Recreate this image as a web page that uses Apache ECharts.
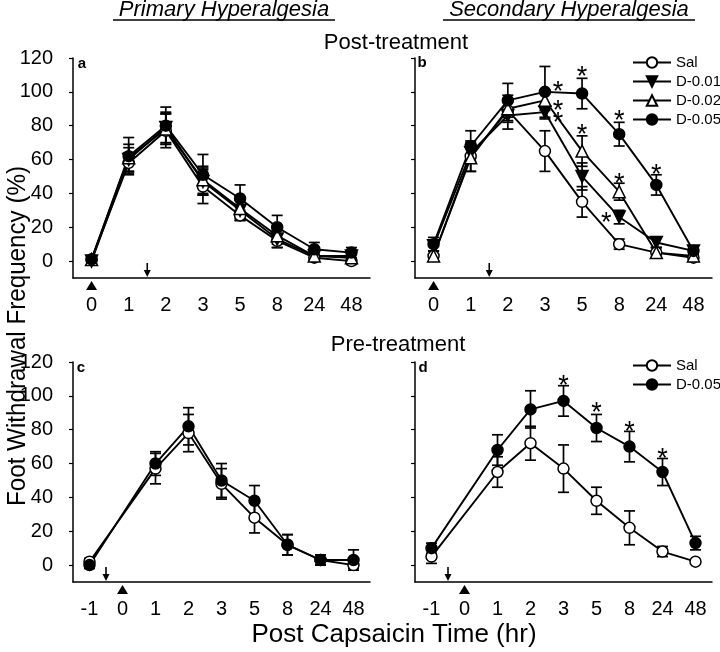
<!DOCTYPE html>
<html>
<head>
<meta charset="utf-8">
<script src="https://cdn.jsdelivr.net/npm/echarts@6/dist/echarts.min.js"></script>
<style>
  html, body { margin: 0; padding: 0; background: #fff; }
</style>
</head>
<body>
<div id="main" style="width: 720px; height: 652px"></div>
<script>
// time points (hr) for the post-treatment (a, b) and pre-treatment (c, d) panels
const catsPost = ["0", "1", "2", "3", "5", "8", "24", "48"];
const catsPre = ["-1", "0", "1", "2", "3", "5", "8", "24", "48"];
const yTicks = [0, 20, 40, 60, 80, 100, 120];

// panel a: primary hyperalgesia, post-treatment (mean, SEM)
const aSal = [1, 58, 77, 44, 27, 12, 2, 0];
const aSalErr = [2, 6, 10, 10, 3, 4, 2, 2];
const aD001 = [0, 60, 79, 47, 30, 13, 3, 3];
const aD001Err = [2, 7, 9, 8, 6, 5, 2, 2];
const aD002 = [1, 61, 78, 48, 31, 15, 3, 2];
const aD002Err = [2, 8, 9, 8, 6, 5, 3, 3];
const aD005 = [1, 62, 80, 51, 37, 20, 7, 5];
const aD005Err = [2, 11, 11, 12, 8, 7, 4, 3];

// panel b: secondary hyperalgesia, post-treatment
const bSal = [3, 62, 89, 65, 35, 10, 5, 2];
const bSalErr = [3, 9, 6, 12, 9, 3, 3, 2];
const bD001 = [9, 64, 86, 88, 50, 26, 11, 6];
const bD001Err = [3, 6, 8, 4, 8, 4, 3, 2];
const bD002 = [3, 61, 90, 95, 65, 41, 5, 3];
const bD002Err = [3, 8, 8, 6, 9, 5, 3, 2];
const bD005 = [10, 68, 95, 100, 99, 75, 45, 6];
const bD005Err = [4, 9, 10, 15, 9, 7, 6, 3];

// panel c: primary hyperalgesia, pre-treatment
const cSal = [2, null, 57, 78, 48, 28, 12, 3, 0];
const cSalErr = [2, null, 9, 11, 9, 9, 6, 3, 2];
const cD005 = [0, null, 60, 82, 50, 38, 12, 3, 3];
const cD005Err = [2, null, 7, 11, 10, 9, 6, 3, 6];

// panel d: secondary hyperalgesia, pre-treatment
const dSal = [5, null, 55, 72, 57, 38, 22, 8, 2];
const dSalErr = [4, null, 9, 10, 14, 8, 10, 3, 1];
const dD005 = [10, null, 68, 92, 97, 81, 70, 55, 13];
const dD005Err = [3, null, 9, 11, 9, 8, 9, 8, 4];

// significance stars: [category index, value, side (-1 left, 0 above, 1 right)]
const bStars = [[3, 103, 1], [3, 92, 1], [3, 85, 1], [4, 112, 0], [4, 78, 0],
                [5, 86, 0], [5, 49, 0], [5, 26, -1], [6, 54, 0]];
const dStars = [[4, 109, 0], [5, 93, 0], [6, 82, 0], [7, 66, 0]];

// drug injection arrow (after this category) and capsaicin triangle (at category)
const arrowPost = 1, capsPost = 0;
const arrowPre = 0, capsPre = 1;

const FONT = "Liberation Sans, Arial, sans-serif";
const INK = "#000";

const styles = {
  "Sal": { symbol: "circle", size: 11, fill: "#fff", rotate: 0 },
  "D-0.01": { symbol: "triangle", size: 12, fill: INK, rotate: 180 },
  "D-0.02": { symbol: "triangle", size: 12, fill: "#fff", rotate: 0 },
  "D-0.05": { symbol: "circle", size: 11, fill: INK, rotate: 0 },
};

const grids = [
  { left: 73, top: 58, width: 297, height: 220 },
  { left: 415, top: 58, width: 297, height: 220 },
  { left: 73, top: 362, width: 297, height: 220 },
  { left: 415, top: 362, width: 297, height: 220 },
];

function xAxisFor(i, cats) {
  return {
    gridIndex: i, type: "category", data: cats, boundaryGap: true,
    axisLine: { onZero: false, lineStyle: { color: INK, width: 1.5 } },
    axisTick: { alignWithLabel: true, length: 5, lineStyle: { color: INK, width: 1.2 } },
    axisLabel: { interval: 0, fontSize: 20, color: INK, fontFamily: FONT, margin: 17 },
    splitLine: { show: false },
  };
}

function yAxisFor(i, labels) {
  return {
    gridIndex: i, type: "value", min: -10, max: 120,
    axisLine: { show: true, lineStyle: { color: INK, width: 1.5 } },
    axisTick: { show: true, length: 4, customValues: yTicks, lineStyle: { color: INK, width: 1.2 } },
    axisLabel: { show: labels, customValues: yTicks, fontSize: 20, color: INK, fontFamily: FONT, margin: 20 },
    splitLine: { show: false },
  };
}

function errorBars(params, api) {
  const x = api.value(0), y = api.value(1), e = api.value(2);
  const hi = api.coord([x, y + e]);
  const lo = api.coord([x, y - e]);
  const w = 5.5;
  const st = { stroke: INK, lineWidth: 1.7 };
  return {
    type: "group",
    children: [
      { type: "line", shape: { x1: hi[0], y1: hi[1], x2: lo[0], y2: lo[1] }, style: st },
      { type: "line", shape: { x1: hi[0] - w, y1: hi[1], x2: hi[0] + w, y2: hi[1] }, style: st },
      { type: "line", shape: { x1: lo[0] - w, y1: lo[1], x2: lo[0] + w, y2: lo[1] }, style: st },
    ],
  };
}

function starMark(params, api) {
  const p = api.coord([api.value(0), api.value(1)]);
  return {
    type: "text",
    x: p[0] + api.value(2) * 13,
    y: p[1] + 6,
    style: { text: "*", fontSize: 27, fontFamily: FONT, fill: INK, align: "center", verticalAlign: "middle" },
  };
}

function drugArrow(params, api) {
  const base = api.coord([api.value(0), -10]);
  const x = base[0] + api.size([1, 0])[0] / 2;
  const yb = base[1] - 1;
  return {
    type: "group",
    children: [
      { type: "line", shape: { x1: x, y1: yb - 14, x2: x, y2: yb - 5 }, style: { stroke: INK, lineWidth: 1.6 } },
      { type: "polygon", shape: { points: [[x - 3.5, yb - 7], [x + 3.5, yb - 7], [x, yb]] }, style: { fill: INK } },
    ],
  };
}

function capsMark(params, api) {
  const p = api.coord([api.value(0), -10]);
  return {
    type: "polygon",
    shape: { points: [[p[0] - 5.5, p[1] + 12], [p[0] + 5.5, p[1] + 12], [p[0], p[1] + 3]] },
    style: { fill: INK },
  };
}

const series = [];

function addGroup(gi, name, values, errs) {
  const s = styles[name];
  series.push({
    type: "custom", xAxisIndex: gi, yAxisIndex: gi, z: 2, silent: true,
    renderItem: errorBars,
    data: values.map((v, i) => [i, v, errs[i]]).filter((d) => d[1] != null),
  });
  series.push({
    type: "line", name: name, xAxisIndex: gi, yAxisIndex: gi, z: 3,
    data: values, connectNulls: true,
    symbol: s.symbol, symbolSize: s.size, symbolRotate: s.rotate, showAllSymbol: true,
    itemStyle: { color: s.fill, borderColor: INK, borderWidth: 1.5 },
    lineStyle: { color: INK, width: 1.9 },
    emphasis: { disabled: true },
    animation: false,
  });
}

function addMarks(gi, arrowAt, capsAt) {
  series.push({ type: "custom", xAxisIndex: gi, yAxisIndex: gi, z: 4, renderItem: drugArrow, data: [[arrowAt, -10]] });
  series.push({ type: "custom", xAxisIndex: gi, yAxisIndex: gi, z: 4, renderItem: capsMark, data: [[capsAt, -10]] });
}

addGroup(0, "Sal", aSal, aSalErr);
addGroup(0, "D-0.01", aD001, aD001Err);
addGroup(0, "D-0.02", aD002, aD002Err);
addGroup(0, "D-0.05", aD005, aD005Err);
addMarks(0, arrowPost, capsPost);

addGroup(1, "Sal", bSal, bSalErr);
addGroup(1, "D-0.01", bD001, bD001Err);
addGroup(1, "D-0.02", bD002, bD002Err);
addGroup(1, "D-0.05", bD005, bD005Err);
addMarks(1, arrowPost, capsPost);
series.push({ type: "custom", xAxisIndex: 1, yAxisIndex: 1, z: 5, renderItem: starMark, data: bStars });

addGroup(2, "Sal", cSal, cSalErr);
addGroup(2, "D-0.05", cD005, cD005Err);
addMarks(2, arrowPre, capsPre);

addGroup(3, "Sal", dSal, dSalErr);
addGroup(3, "D-0.05", dD005, dD005Err);
addMarks(3, arrowPre, capsPre);
series.push({ type: "custom", xAxisIndex: 3, yAxisIndex: 3, z: 5, renderItem: starMark, data: dStars });

function txt(x, y, text, size, extraStyle, extra) {
  return Object.assign({
    type: "text", x: x, y: y, silent: true,
    style: Object.assign({ text: text, fontSize: size, fontFamily: FONT, fill: INK, align: "center", verticalAlign: "middle" }, extraStyle || {}),
  }, extra || {});
}

function rule(x1, x2, y) {
  return { type: "line", silent: true, shape: { x1: x1, y1: y, x2: x2, y2: y }, style: { stroke: INK, lineWidth: 1.3 } };
}

const legendBase = {
  orient: "vertical", padding: 0, itemWidth: 38, itemHeight: 13, itemGap: 4,
  selectedMode: false,
  textStyle: { fontSize: 15, fontFamily: FONT, color: INK },
};

const bold = { fontWeight: "bold" };
const italic = { fontStyle: "italic" };

const option = {
  animation: false,
  backgroundColor: "#fff",
  grid: grids,
  xAxis: [xAxisFor(0, catsPost), xAxisFor(1, catsPost), xAxisFor(2, catsPre), xAxisFor(3, catsPre)],
  yAxis: [yAxisFor(0, true), yAxisFor(1, false), yAxisFor(2, true), yAxisFor(3, false)],
  legend: [
    Object.assign({ data: ["Sal", "D-0.01", "D-0.02", "D-0.05"], left: 632, top: 55 }, legendBase),
    Object.assign({ data: ["Sal", "D-0.05"], left: 632, top: 358 }, legendBase),
  ],
  graphic: [
    txt(224, 10, "Primary Hyperalgesia", 22, italic),
    rule(113, 335, 20),
    txt(569, 10, "Secondary Hyperalgesia", 22, italic),
    rule(443, 695, 20),
    txt(396, 43, "Post-treatment", 22),
    txt(398, 345, "Pre-treatment", 22),
    txt(18, 336, "Foot Withdrawal Frequency (%)", 26, null, { rotation: Math.PI / 2, scaleX: 0.93 }),
    txt(394, 635, "Post Capsaicin Time (hr)", 26),
    txt(82, 64, "a", 15, bold),
    txt(422, 63, "b", 15, bold),
    txt(81, 368, "c", 15, bold),
    txt(423, 368, "d", 15, bold),
  ],
  series: series,
};

const myChart = echarts.init(document.getElementById("main"));
myChart.setOption(option);
window.addEventListener("resize", () => {
  myChart.resize();
});
</script>
</body>
</html>
